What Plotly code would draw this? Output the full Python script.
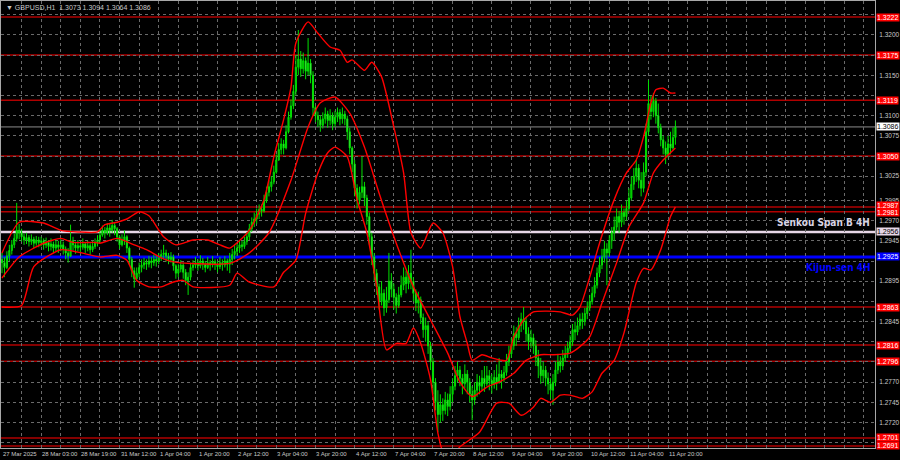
import plotly.graph_objects as go

# ---------------- data (prices in pips: 2918 -> 1.2918) ----------------
first_open = 2922
close_p = [
    2918, 2912, 2926, 2933, 2940, 2948, 2958, 2955,
    2950, 2946, 2949, 2944, 2947, 2942, 2946, 2943,
    2945, 2940, 2943, 2938, 2941, 2936, 2940, 2937,
    2940, 2935, 2930, 2926, 2945, 2940, 2936, 2939,
    2937, 2941, 2936, 2939, 2934, 2938, 2942, 2946,
    2952, 2958, 2955, 2961, 2958, 2964, 2960, 2950,
    2940, 2946, 2950, 2936, 2922, 2908, 2898, 2905,
    2912, 2915, 2918, 2916, 2920, 2918, 2922, 2920,
    2924, 2928, 2930, 2926, 2922, 2925, 2914, 2905,
    2910, 2915, 2906, 2896, 2900, 2912, 2915, 2918,
    2914, 2920, 2916, 2912, 2918, 2915, 2919, 2916,
    2913, 2918, 2915, 2920, 2916, 2922, 2928, 2932,
    2936, 2940, 2938, 2944, 2950, 2960, 2968, 2972,
    2978, 2984, 2982, 2995, 3005, 3012, 3018, 3030,
    3045, 3058, 3065, 3060, 3080, 3098, 3112, 3130,
    3160, 3170, 3158, 3168, 3155, 3165, 3150, 3110,
    3100, 3095, 3088, 3096, 3102, 3094, 3100, 3090,
    3098, 3104, 3096, 3102, 3096, 3080, 3060, 3040,
    3010, 2995, 3005, 3012, 2998, 2975, 2950, 2925,
    2905, 2888, 2870, 2880, 2862, 2872, 2895, 2885,
    2875, 2865, 2878, 2890, 2900, 2892, 2905, 2895,
    2880, 2868, 2872, 2850, 2835, 2840, 2815, 2795,
    2770, 2745, 2730, 2742, 2735, 2748, 2740, 2755,
    2765, 2778, 2785, 2775, 2768, 2780, 2770, 2755,
    2748, 2760, 2770, 2765, 2775, 2768, 2778, 2772,
    2768, 2776, 2770, 2780, 2775, 2782, 2795, 2805,
    2815, 2830, 2825, 2840, 2848, 2845, 2830, 2820,
    2825, 2815, 2800, 2790, 2778, 2785, 2775, 2768,
    2760, 2770, 2785, 2795, 2790, 2800, 2805, 2812,
    2820, 2835, 2832, 2840, 2848, 2845, 2855, 2862,
    2870, 2880, 2890, 2905, 2915, 2925, 2935, 2930,
    2945, 2955, 2962, 2975, 2968, 2980, 2975, 2985,
    2998, 3015, 3025, 3035, 3020, 3010, 3030, 3080,
    3115, 3105, 3118, 3100, 3085, 3070, 3060, 3052,
    3065, 3060, 3073, 3086,
]
high_p = [
    2930, 2925, 2932, 2940, 2946, 2954, 2992, 2966,
    2960, 2954, 2955, 2952, 2953, 2950, 2951, 2950,
    2950, 2948, 2949, 2946, 2948, 2944, 2946, 2945,
    2947, 2944, 2938, 2936, 2965, 2950, 2944, 2946,
    2944, 2948, 2943, 2945, 2942, 2945, 2948, 2952,
    2958, 2964, 2962, 2967, 2966, 2971, 2967, 2962,
    2952, 2953, 2958, 2952, 2938, 2925, 2912, 2912,
    2918, 2922, 2924, 2922, 2926, 2925, 2928, 2927,
    2930, 2934, 2940, 2934, 2930, 2931, 2928, 2916,
    2916, 2921, 2918, 2910, 2906, 2918, 2921, 2925,
    2922, 2927, 2924, 2920, 2925, 2921, 2926, 2922,
    2920, 2925, 2922, 2926, 2923, 2930, 2935, 2940,
    2942, 2946, 2945, 2950, 2956, 2966, 2974, 2980,
    2985, 2990, 2990, 3002, 3012, 3020, 3025, 3038,
    3052, 3066, 3072, 3070, 3088, 3105, 3120, 3138,
    3175, 3206, 3180, 3178, 3172, 3196, 3170, 3155,
    3112, 3105, 3100, 3104, 3110, 3106, 3108, 3104,
    3106, 3110, 3108, 3110, 3106, 3100, 3085, 3062,
    3045, 3015, 3012, 3049, 3018, 3002, 2980, 2955,
    2930, 2910, 2892, 2895, 2885, 2888, 2930, 2905,
    2892, 2880, 2888, 2902, 2912, 2908, 2915, 2934,
    2900, 2885, 2882, 2876, 2855, 2850, 2845, 2820,
    2800, 2775, 2760, 2755, 2750, 2758, 2756, 2765,
    2775, 2790, 2795, 2790, 2780, 2792, 2785, 2775,
    2765, 2770, 2780, 2778, 2785, 2790, 2790, 2785,
    2780, 2785, 2792, 2800, 2785, 2790, 2805, 2815,
    2825, 2840, 2838, 2850, 2856, 2863, 2850, 2838,
    2835, 2830, 2822, 2810, 2800, 2795, 2790, 2782,
    2775, 2780, 2795, 2805, 2802, 2810, 2815, 2820,
    2828, 2842, 2845, 2850, 2855, 2856, 2862, 2870,
    2878, 2888, 2900, 2912, 2925, 2935, 2945, 2942,
    2952, 2962, 2975, 2985, 2982, 2990, 2985, 2995,
    3010, 3025, 3035, 3045, 3040, 3030, 3042, 3090,
    3144, 3125, 3128, 3122, 3115, 3090, 3075, 3068,
    3075, 3080, 3085, 3094,
]
low_p = [
    2905, 2900, 2910, 2920, 2928, 2936, 2944, 2947,
    2944, 2940, 2941, 2938, 2940, 2936, 2939, 2937,
    2938, 2934, 2936, 2932, 2933, 2930, 2932, 2930,
    2932, 2928, 2922, 2918, 2925, 2933, 2929, 2932,
    2930, 2934, 2930, 2932, 2928, 2931, 2935, 2938,
    2943, 2950, 2948, 2952, 2950, 2955, 2952, 2944,
    2935, 2938, 2940, 2930, 2915, 2900, 2887, 2895,
    2900, 2906, 2910, 2909, 2912, 2911, 2914, 2913,
    2916, 2920, 2922, 2919, 2916, 2918, 2908, 2898,
    2900, 2906, 2898, 2890, 2878, 2896, 2908, 2911,
    2908, 2911, 2909, 2906, 2910, 2908, 2912, 2909,
    2906, 2910, 2908, 2912, 2908, 2905, 2915, 2922,
    2926, 2930, 2932, 2935, 2940, 2946, 2956, 2962,
    2966, 2972, 2975, 2980, 2992, 3000, 3006, 3015,
    3028, 3044, 3052, 3052, 3058, 3078, 3095, 3108,
    3125, 3150, 3148, 3152, 3145, 3150, 3140, 3100,
    3092, 3086, 3080, 3084, 3090, 3085, 3088, 3082,
    3086, 3092, 3088, 3090, 3088, 3070, 3052, 3030,
    3000, 2985, 2990, 2998, 2988, 2965, 2940, 2915,
    2895, 2878, 2860, 2865, 2852, 2856, 2868, 2875,
    2860, 2855, 2862, 2875, 2884, 2880, 2885, 2885,
    2870, 2858, 2855, 2842, 2825, 2820, 2805, 2785,
    2755, 2735, 2708, 2720, 2722, 2730, 2728, 2735,
    2745, 2760, 2770, 2765, 2755, 2762, 2755, 2745,
    2723, 2742, 2752, 2755, 2760, 2758, 2765, 2760,
    2756, 2762, 2760, 2768, 2762, 2770, 2778, 2790,
    2800, 2810, 2815, 2822, 2832, 2835, 2820, 2810,
    2812, 2805, 2790, 2775, 2768, 2770, 2765, 2755,
    2750, 2742, 2765, 2780, 2782, 2785, 2795, 2800,
    2808, 2815, 2822, 2828, 2835, 2836, 2840, 2848,
    2858, 2866, 2875, 2886, 2900, 2910, 2918, 2890,
    2925, 2935, 2945, 2958, 2955, 2962, 2965, 2970,
    2982, 2995, 3008, 3018, 3010, 3000, 3005, 3025,
    3075, 3095, 3098, 3090, 3078, 3062, 3052, 3040,
    3048, 3052, 3058, 3064,
]

# indicator envelope lines: (bar index, price in pips)
upper_bar = [0, 7, 17, 24, 31, 39, 42, 47, 51, 56, 60, 66, 71, 78, 84, 89, 93, 101, 107, 111,
             115, 118, 120, 125, 129, 134, 138, 141, 143, 148, 151, 155, 160, 164, 167, 171,
             176, 180, 184, 187, 190, 192, 196, 200, 206, 209, 213, 217, 222, 228, 233, 236,
             240, 244, 250, 255, 259, 262, 265, 267, 270, 273, 275]
upper_val = [2930, 2968, 2967, 2958, 2956, 2956, 2965, 2968, 2972, 2981, 2976, 2950, 2940, 2946,
             2946, 2940, 2936, 2958, 2996, 3049, 3095, 3135, 3190, 3216, 3202, 3185, 3181, 3166,
             3169, 3156, 3166, 3148, 3086, 3029, 2955, 2936, 2967, 2955, 2913, 2851, 2818, 2797,
             2804, 2800, 2797, 2826, 2847, 2857, 2858, 2857, 2853, 2863, 2900, 2942, 2996, 3029,
             3045, 3074, 3116, 3132, 3134, 3128, 3128]
mid_bar = [0, 7, 17, 24, 29, 38, 40, 47, 54, 59, 65, 70, 77, 93, 101, 109, 118, 125, 130, 136,
           142, 148, 154, 161, 168, 175, 182, 187, 192, 198, 203, 209, 214, 220, 225, 232, 236,
           240, 245, 251, 256, 262, 266, 270, 275]
mid_val = [2899, 2925, 2942, 2948, 2943, 2943, 2942, 2948, 2940, 2934, 2924, 2919, 2917, 2917,
           2930, 2955, 3020, 3086, 3116, 3123, 3103, 3061, 3004, 2942, 2888, 2847, 2806, 2770,
           2752, 2764, 2770, 2781, 2797, 2804, 2804, 2806, 2814, 2826, 2868, 2918, 2962, 2992,
           3029, 3045, 3060]
lower_bar = [0, 8, 13, 24, 31, 40, 47, 51, 55, 60, 65, 70, 74, 78, 93, 96, 101, 111, 115, 120,
             124, 129, 133, 136, 141, 145, 149, 153, 157, 161, 165, 168, 171, 175, 178, 180, 184,
             187, 195, 202, 207, 212, 217, 220, 224, 228, 232, 237, 241, 245, 250, 254, 259, 262,
             265, 269, 273, 275]
lower_val = [2863, 2865, 2913, 2934, 2931, 2925, 2927, 2921, 2896, 2888, 2888, 2894, 2896, 2888,
             2890, 2905, 2894, 2888, 2906, 2921, 2979, 3029, 3054, 3061, 3049, 2996, 2955, 2888,
             2810, 2818, 2818, 2837, 2818, 2773, 2707, 2685, 2680, 2690, 2708, 2744, 2744, 2729,
             2739, 2750, 2745, 2754, 2754, 2750, 2758, 2781, 2797, 2831, 2893, 2911, 2909, 2934,
             2975, 2987]

red_levels = [1.3222, 1.3175, 1.3119, 1.3050, 1.2987, 1.2981, 1.2863, 1.2816, 1.2796, 1.2701, 1.2691]
senkou_b = 1.2956
kijun = 1.2925
bid = 1.3086

ytick_vals = [1.3225, 1.3200, 1.3175, 1.3150, 1.3125, 1.3100, 1.3075, 1.3050, 1.3025, 1.2995,
              1.2970, 1.2945, 1.2920, 1.2895, 1.2870, 1.2845, 1.2820, 1.2795, 1.2770, 1.2745,
              1.2720, 1.2695]
ytick_text = ["", "1.3200", "", "1.3150", "", "1.3100", "1.3075", "", "1.3025", "1.2995",
              "1.2970", "1.2945", "", "1.2895", "", "1.2845", "", "", "1.2770",
              "1.2745", "1.2720", ""]
time_labels = ["27 Mar 2025", "28 Mar 03:00", "28 Mar 19:00", "31 Mar 12:00", "1 Apr 04:00",
               "1 Apr 20:00", "2 Apr 12:00", "3 Apr 04:00", "3 Apr 20:00", "4 Apr 12:00",
               "7 Apr 04:00", "7 Apr 20:00", "8 Apr 12:00", "9 Apr 04:00", "9 Apr 20:00",
               "10 Apr 12:00", "11 Apr 04:00", "11 Apr 20:00"]
label_step = 16
grid_step = 8
symbol = "GBPUSD,H1"

# ---------------- build ----------------
def px(v):
    return 1 + v / 10000.0

close = [px(v) for v in close_p]
high = [px(v) for v in high_p]
low = [px(v) for v in low_p]
opn = [px(first_open)] + close[:-1]
bars = list(range(len(close)))

GREEN = "#00e000"
fig = go.Figure()
fig.add_trace(go.Candlestick(
    x=bars, open=opn, high=high, low=low, close=close,
    increasing=dict(line=dict(color=GREEN, width=1), fillcolor="#00a800"),
    decreasing=dict(line=dict(color=GREEN, width=1), fillcolor="#a8ffa8"),
    whiskerwidth=0, hoverinfo="skip", showlegend=False,
))
for bi, bv in ((upper_bar, upper_val), (mid_bar, mid_val), (lower_bar, lower_val)):
    fig.add_trace(go.Scatter(
        x=bi, y=[px(v) for v in bv], mode="lines",
        line=dict(color="#ff0000", width=1.4, shape="spline", smoothing=0.6),
        hoverinfo="skip", showlegend=False, cliponaxis=True,
    ))

# horizontal levels
for lv in red_levels:
    fig.add_hline(y=lv, line=dict(color="#b00000", width=1.5), layer="below")
fig.add_hline(y=bid, line=dict(color="#8c8c8c", width=1), layer="below")
fig.add_hline(y=senkou_b, line=dict(color="#e6d6e6", width=2.5), layer="below")
fig.add_hline(y=kijun, line=dict(color="#0000ff", width=3), layer="below")

LBL_FONT = "Liberation Sans, Arial, sans-serif"
ann = []
def side_label(val, bg, fg, shift=0):
    ann.append(dict(xref="paper", yref="y", x=1, y=val, xanchor="left", yanchor="middle",
                    xshift=1, yshift=shift, text=f"{val:.4f}", showarrow=False, bgcolor=bg,
                    borderpad=0, font=dict(family=LBL_FONT, size=7, color=fg)))
for lv in red_levels:
    side_label(lv, "#ff0000", "#ffffff",
               shift=(1 if lv == 1.2987 else (-1 if lv == 1.2981 else 0)))
side_label(senkou_b, "#e6d6e6", "#000000")
side_label(kijun, "#0000ff", "#ffffff")
side_label(bid, "#ffffff", "#000000")

NARROW = "Liberation Sans Narrow, Arial Narrow, DejaVu Sans Condensed, Liberation Sans, sans-serif"
ann.append(dict(xref="paper", yref="y", x=0.997, y=senkou_b, xanchor="right", yanchor="bottom",
                yshift=2, text="<b>Senkou Span B 4H</b>", showarrow=False,
                font=dict(family=NARROW, size=10, color="#d8d4e4")))
ann.append(dict(xref="paper", yref="y", x=0.997, y=kijun, xanchor="right", yanchor="top",
                yshift=-3, text="<b>Kijun-sen 4H</b>", showarrow=False,
                font=dict(family=NARROW, size=10, color="#0000ff")))

# title
ann.append(dict(xref="paper", yref="paper", x=0, y=1, xanchor="left", yanchor="top",
                xshift=3, yshift=-1,
                text=f"▼ {symbol}  {opn[-1]:.4f} {high[-1]:.4f} {low[-1]:.4f} {close[-1]:.4f}",
                showarrow=False, font=dict(family=LBL_FONT, size=7, color="#c8c8c8")))

# time labels
for k, t in enumerate(time_labels):
    ann.append(dict(xref="x", yref="paper", x=k * label_step, y=0, xanchor="left", yanchor="top",
                    yshift=-1, xshift=-1, text=t, showarrow=False,
                    font=dict(family=LBL_FONT, size=6, color="#c8c8c8")))

fig.update_layout(
    width=900, height=460,
    margin=dict(l=1, r=25, t=1, b=12, autoexpand=False),
    paper_bgcolor="#000000", plot_bgcolor="#000000",
    annotations=ann, showlegend=False, boxgap=0.35,
    xaxis=dict(range=[-0.41, 356.5], rangeslider=dict(visible=False),
               tickvals=list(range(0, 357, grid_step)), showticklabels=False,
               showgrid=True, gridcolor="#6a6a6a", griddash="3px,3px", gridwidth=1,
               zeroline=False, showline=True, linecolor="#a8a8a8", linewidth=1, mirror=True,
               ticks="", automargin=False),
    yaxis=dict(range=[1.26885, 1.32419], side="right",
               tickvals=ytick_vals, ticktext=ytick_text,
               tickfont=dict(family=LBL_FONT, size=6.5, color="#c8c8c8"),
               showgrid=True, gridcolor="#6a6a6a", griddash="3px,3px", gridwidth=1,
               zeroline=False, showline=True, linecolor="#a8a8a8", linewidth=1, mirror=True,
               ticks="", ticklabelstandoff=2, automargin=False),
)

fig.write_html("out.html", config={"displayModeBar": False},
               post_script="document.body.style.margin='0';document.body.style.overflow='hidden';")

# make sure the page itself has no default body margin
with open("out.html", "r", encoding="utf-8") as f:
    html = f.read()
html = html.replace("<body>", "<body style=\"margin:0;overflow:hidden;background:#000\">", 1)
with open("out.html", "w", encoding="utf-8") as f:
    f.write(html)
